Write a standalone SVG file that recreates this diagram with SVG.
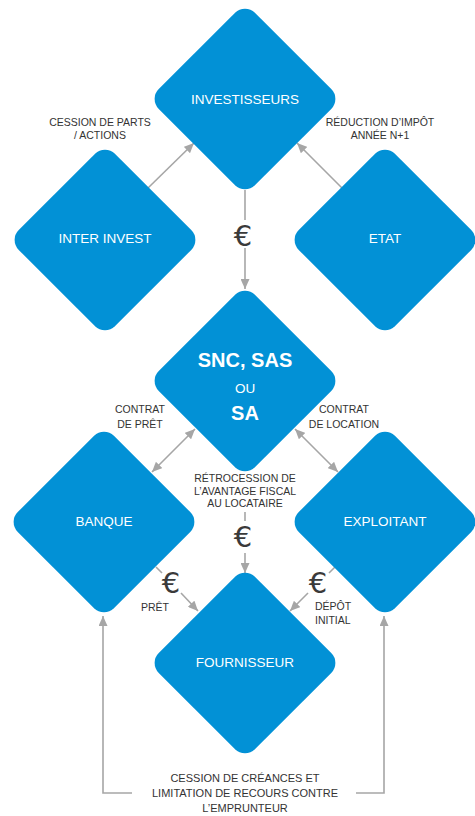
<svg xmlns="http://www.w3.org/2000/svg" width="475" height="816" viewBox="0 0 475 816">
<defs>
<style>
.node rect{fill:#0291D6}
.nt{font-family:"Liberation Sans",Arial,sans-serif;font-size:13.5px;fill:#ffffff;text-anchor:middle}
.big{font-family:"Liberation Sans",Arial,sans-serif;font-weight:bold;font-size:20px;fill:#ffffff;text-anchor:middle}
.lbl{font-family:"Liberation Sans",Arial,sans-serif;font-size:10.5px;fill:#333333;text-anchor:middle}
.lbl2{font-family:"Liberation Sans",Arial,sans-serif;font-size:11px;fill:#333333;text-anchor:middle}
.eur{font-family:"DejaVu Sans",sans-serif;font-size:29px;fill:#3a3a3a;text-anchor:middle}
.ln{stroke:#A6A6A6;stroke-width:1.6;fill:none}
</style>
<marker id="ah" viewBox="0 0 10 9" refX="10" refY="4.5" markerWidth="10" markerHeight="9" markerUnits="userSpaceOnUse" orient="auto-start-reverse">
<path d="M0,0 L10,4.5 L0,9 z" fill="#A6A6A6"/>
</marker>
</defs>

<g id="connectors">
<line class="ln" x1="148" y1="188" x2="194" y2="143" marker-end="url(#ah)"/>
<line class="ln" x1="342" y1="188" x2="297" y2="143" marker-end="url(#ah)"/>
<line class="ln" x1="245" y1="190" x2="245" y2="220"/>
<line class="ln" x1="245" y1="248" x2="245" y2="289" marker-end="url(#ah)"/>
<line class="ln" x1="152" y1="472" x2="195" y2="429" marker-start="url(#ah)" marker-end="url(#ah)"/>
<line class="ln" x1="295" y1="429" x2="338" y2="472" marker-start="url(#ah)" marker-end="url(#ah)"/>
<line class="ln" x1="245" y1="512" x2="245" y2="521"/>
<line class="ln" x1="245" y1="553" x2="245" y2="573" marker-end="url(#ah)"/>
<line class="ln" x1="156" y1="567" x2="162" y2="573"/>
<line class="ln" x1="181" y1="593" x2="198" y2="611" marker-end="url(#ah)"/>
<line class="ln" x1="335" y1="567" x2="329" y2="573"/>
<line class="ln" x1="308" y1="593" x2="290" y2="611" marker-end="url(#ah)"/>
<polyline class="ln" points="132,793 103,793 103,616" marker-end="url(#ah)"/>
<polyline class="ln" points="356,793 384,793 384,616" marker-end="url(#ah)"/>
<text class="eur" x="243" y="246">€</text>
<text class="eur" x="243" y="547">€</text>
<text class="eur" x="171" y="593">€</text>
<text class="eur" x="318" y="593">€</text>
<text class="lbl" x="100" y="126">CESSION DE PARTS</text>
<text class="lbl" x="100" y="139">/ ACTIONS</text>
<text class="lbl" x="380" y="126">RÉDUCTION D’IMPÔT</text>
<text class="lbl" x="380" y="139">ANNÉE N+1</text>
<text class="lbl" x="140" y="413">CONTRAT</text>
<text class="lbl" x="140" y="428">DE PRÊT</text>
<text class="lbl" x="344" y="413">CONTRAT</text>
<text class="lbl" x="344" y="428">DE LOCATION</text>
<text class="lbl" x="245" y="482">RÉTROCESSION DE</text>
<text class="lbl" x="245" y="494.5">L’AVANTAGE FISCAL</text>
<text class="lbl" x="245" y="507">AU LOCATAIRE</text>
<text class="lbl" x="155" y="611">PRÊT</text>
<text class="lbl" x="315" y="610" style="text-anchor:start">DÉPÔT</text>
<text class="lbl" x="315" y="624" style="text-anchor:start">INITIAL</text>
<text class="lbl2" x="245" y="782">CESSION DE CRÉANCES ET</text>
<text class="lbl2" x="245" y="797">LIMITATION DE RECOURS CONTRE</text>
<text class="lbl2" x="245" y="812">L’EMPRUNTEUR</text>
</g>

<g id="investisseurs" class="node">
<rect x="-68" y="-68" width="136" height="136" rx="14" transform="translate(245,99) rotate(45)"/>
<text class="nt" x="245" y="104">INVESTISSEURS</text>
</g>
<g id="inter-invest" class="node">
<rect x="-68" y="-68" width="136" height="136" rx="14" transform="translate(105,240) rotate(45)"/>
<text class="nt" x="105" y="243">INTER INVEST</text>
</g>
<g id="etat" class="node">
<rect x="-68" y="-68" width="136" height="136" rx="14" transform="translate(385,240) rotate(45)"/>
<text class="nt" x="385" y="243">ETAT</text>
</g>
<g id="snc" class="node">
<rect x="-68" y="-68" width="136" height="136" rx="14" transform="translate(245,381) rotate(45)"/>
<text class="big" x="245" y="367">SNC, SAS</text>
<text class="nt" x="245" y="393">OU</text>
<text class="big" x="245" y="420">SA</text>
</g>
<g id="banque" class="node">
<rect x="-68" y="-68" width="136" height="136" rx="14" transform="translate(104,522) rotate(45)"/>
<text class="nt" x="104" y="526">BANQUE</text>
</g>
<g id="exploitant" class="node">
<rect x="-68" y="-68" width="136" height="136" rx="14" transform="translate(385,522) rotate(45)"/>
<text class="nt" x="385" y="526">EXPLOITANT</text>
</g>
<g id="fournisseur" class="node">
<rect x="-68" y="-68" width="136" height="136" rx="14" transform="translate(245,663) rotate(45)"/>
<text class="nt" x="245" y="667">FOURNISSEUR</text>
</g>
</svg>
